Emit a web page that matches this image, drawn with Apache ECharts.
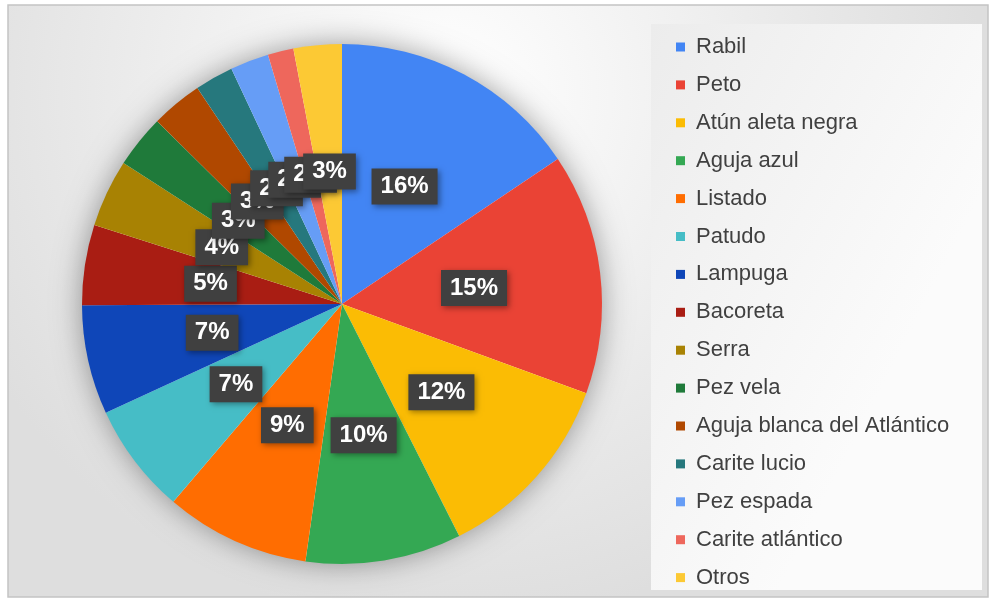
<!DOCTYPE html>
<html>
<head>
<meta charset="utf-8">
<script src="https://cdn.jsdelivr.net/npm/echarts@6/dist/echarts.min.js"></script>
<style>
  html,body{margin:0;padding:0;background:#fff;}
  #main{width:992px;height:602px;}
</style>
</head>
<body>
<div id="main"></div>
<script>
// especies y porcentajes
var especies = ['Rabil','Peto','Atún aleta negra','Aguja azul','Listado','Patudo','Lampuga','Bacoreta','Serra','Pez vela','Aguja blanca del Atlántico','Carite lucio','Pez espada','Carite atlántico','Otros'];
var valores = [15.6, 15.0, 12.0, 9.7, 9.0, 6.9, 6.8, 5.0, 4.2, 3.3, 3.2, 2.4, 2.4, 1.6, 3.0];
var colores = ['#4285F4','#EA4335','#FBBC04','#34A853','#FF6D01','#46BDC6','#0F46B8','#A91D13','#A88203','#1F7A3A','#B04800','#26787D','#669DF6','#EE675C','#FCC934'];

var myChart = echarts.init(document.getElementById('main'));

var datos = especies.map(function(n, i){
  return {name: n, value: valores[i], itemStyle: {color: colores[i]}};
});

var option = {
  backgroundColor: '#ffffff',
  animation: false,
  graphic: [
    {
      type: 'rect', z: -1,
      shape: {x: 8, y: 5, width: 980, height: 592},
      style: {
        stroke: '#c4c4c4', lineWidth: 1.5,
        fill: new echarts.graphic.RadialGradient(0.45, 0.15, 0.9, [
          {offset: 0, color: '#ffffff'},
          {offset: 1, color: '#dedede'}
        ])
      }
    },
    {
      type: 'rect', z: 0,
      shape: {x: 651, y: 24, width: 331, height: 566},
      style: {
        fill: new echarts.graphic.LinearGradient(0, 0, 1, 0.3, [
          {offset: 0, color: '#ececec'},
          {offset: 1, color: '#fbfbfb'}
        ])
      }
    }
  ],
  legend: {
    orient: 'vertical',
    left: 671,
    top: 31,
    data: especies,
    icon: 'rect',
    itemWidth: 9,
    itemHeight: 9,
    itemGap: 15.9,
    textStyle: {fontSize: 22, lineHeight: 22, color: '#404040', fontFamily: 'Liberation Sans', padding: [0, 0, 0, 6]}
  },
  series: [
    {
      // sombra del circulo
      type: 'pie',
      silent: true,
      center: [342, 304],
      radius: 259,
      z: 1,
      label: {show: false},
      itemStyle: {color: '#ffffff', shadowBlur: 30, shadowColor: 'rgba(0,0,0,0.4)'},
      data: [{name: 'sombra', value: 1}]
    },
    {
      type: 'pie',
      center: [342, 304],
      radius: 260,
      startAngle: 90,
      clockwise: true,
      avoidLabelOverlap: false,
      labelLayout: {hideOverlap: false},
      z: 2,
      label: {
        show: true,
        position: 'inside',
        formatter: function(p){ return Math.round(p.value) + '%'; },
        color: '#ffffff',
        fontSize: 24,
        fontWeight: 'bold',
        fontFamily: 'Liberation Sans',
        backgroundColor: '#404040',
        padding: [7, 9, 5, 9],
        shadowBlur: 6,
        shadowColor: 'rgba(0,0,0,0.4)',
        shadowOffsetX: 2,
        shadowOffsetY: 2
      },
      labelLine: {show: false},
      emphasis: {disabled: true},
      data: datos
    }
  ]
};

myChart.setOption(option);
</script>
</body>
</html>
